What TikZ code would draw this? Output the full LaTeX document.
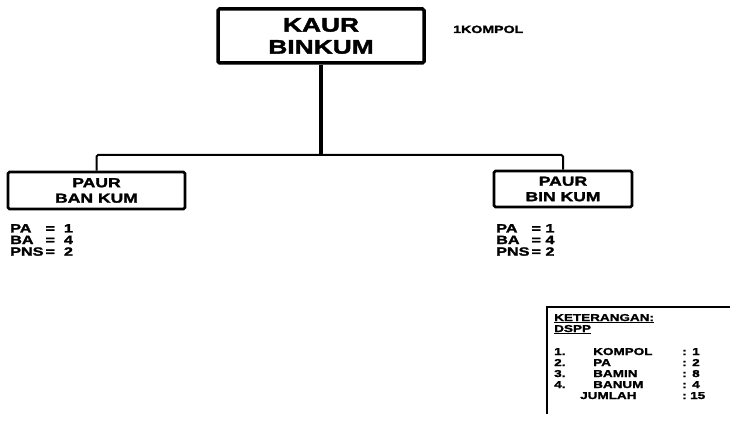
\documentclass[tikz,border=0pt]{standalone}
\usepackage{fontspec}
\setmainfont{Liberation Sans}[FakeStretch=1.35, BoldFeatures={FakeStretch=1.35, FakeBold=2}]
\begin{document}
\begin{tikzpicture}[x=1pt,y=-1pt,
  every node/.style={inner sep=0pt},
  fs/.style={font=\bfseries\fontsize{#1}{#1}\selectfont},
  unitbox/.style={draw, line width=2.6pt, rounded corners=1.5pt, align=center},
  link/.style={line width=2pt},
  txt/.style={anchor=base west}]
\useasboundingbox (0,0) rectangle (730,422);
% main box
\node[unitbox, line width=3.5pt, minimum width=206pt, minimum height=54pt,
  font=\bfseries\fontsize{19.5}{22}\selectfont] (top) at (321,36) {KAUR\\BINKUM};
\node[txt, fs=10.5] (kompol) at (453,33) {1KOMPOL};
% sub boxes
\node[unitbox, minimum width=177pt, minimum height=37pt,
  font=\bfseries\fontsize{13}{15.5}\selectfont] (left) at (96.5,190.5) {PAUR\\BAN KUM};
\node[unitbox, minimum width=138pt, minimum height=36pt,
  font=\bfseries\fontsize{13}{15.5}\selectfont] (right) at (563,189) {PAUR\\BIN KUM};
% connectors
\coordinate (hub) at (321,155);
\draw[line width=4pt] (top.south) -- (hub);
\draw[link, rounded corners=1.5pt] (left.north) |- (hub) -| (right.north);
% staff counts
\node[anchor=north west, font=\bfseries\fontsize{12}{11}\selectfont] (lcount) at (10,224)
  {\begin{tabular}{@{}l@{\,}l@{\ \ }l@{}}PA&=&1\\BA&=&4\\PNS&=&2\end{tabular}};
\node[anchor=north west, font=\bfseries\fontsize{12}{11}\selectfont] (rcount) at (496,224)
  {\begin{tabular}{@{}l@{\,}l@{\ }l@{}}PA&=&1\\BA&=&4\\PNS&=&2\end{tabular}};
% legend
\coordinate (legtr) at (730,307);
\coordinate (legbl) at (547,414);
\draw[line width=1.6pt] (legtr) -| (legbl);
\node[txt, fs=10] (ket) at (554,321) {\underline{KETERANGAN:}};
\node[txt, fs=10] (dspp) at (554,332) {\underline{DSPP}};
\foreach \i/\n/\v/\y in {1/KOMPOL/1/355, 2/PA/2/366, 3/BAMIN/8/377, 4/BANUM/4/388}{
  \node[txt, fs=10] (num\i) at (554,\y) {\i.};
  \node[txt, fs=10] (name\i) at (593,\y) {\n};
  \node[txt, fs=10] (col\i) at (682,\y) {:};
  \node[txt, fs=10] (val\i) at (692,\y) {\v};
}
\node[txt, fs=10] (jml) at (580,399) {JUMLAH};
\node[txt, fs=10] (jcol) at (682,399) {:};
\node[txt, fs=10] (jval) at (690,399) {15};
\end{tikzpicture}
\end{document}
